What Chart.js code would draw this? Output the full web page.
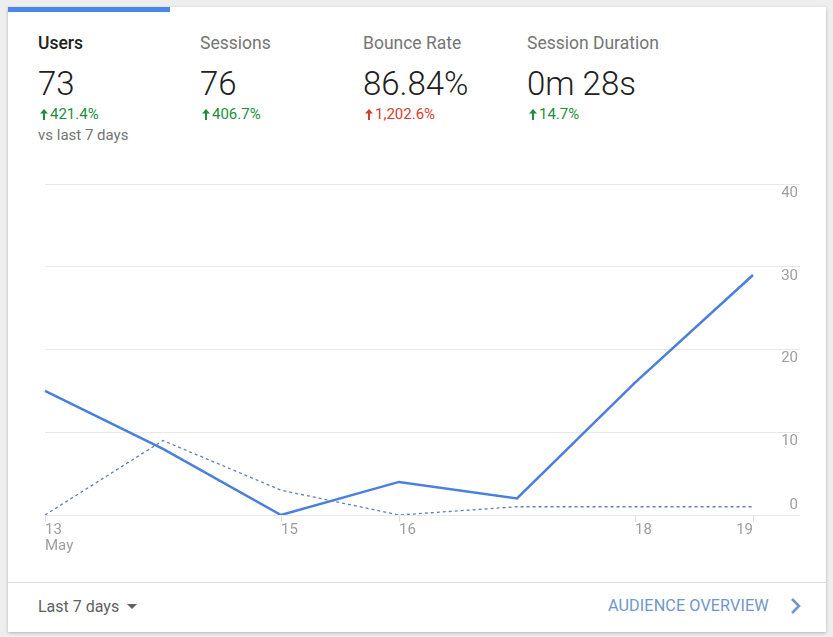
<!DOCTYPE html>
<html>
<head>
<meta charset="utf-8">
<script src="https://cdn.jsdelivr.net/npm/chart.js@4.4.0/dist/chart.umd.min.js"></script>
<style>
  body { margin: 0; background: #eeeeee; font-family: Roboto, "Noto Sans", sans-serif; width: 833px; height: 637px; overflow: hidden; position: relative; }
  .card { position: absolute; left: 8px; top: 7px; width: 818px; height: 625px; background: #fff; box-shadow: 0 1px 3px rgba(0,0,0,0.25); }
  .tabbar { position: absolute; left: 8px; top: 7px; width: 162px; height: 5px; background: #4a86e8; }
  .metric { position: absolute; top: 31px; }
  .metric .name { font-size: 17.5px; color: #757575; line-height: 24px; }
  .metric.active .name { color: #212121; font-weight: 500; }
  .metric .value { font-size: 33px; font-weight: 300; color: #212121; line-height: 40px; margin-top: 9px; }
  .metric .delta { font-size: 15px; line-height: 18px; margin-top: 1px; }
  .metric .delta svg { vertical-align: -1px; margin-right: 2px; margin-left: 2px; }
  .up-good { color: #1e8e3e; }
  .up-bad { color: #d23f31; }
  .metric .vs { font-size: 15px; color: #757575; line-height: 20px; margin-top: 2px; }
  #chartBox { position: absolute; left: 0; top: 170px; width: 833px; height: 400px; }
  .divider { position: absolute; left: 8px; top: 582px; width: 818px; height: 1px; background: #e0e0e0; }
  .range { position: absolute; left: 38px; top: 597px; font-size: 16px; color: #616161; }
  .overview { position: absolute; left: 608px; top: 596px; font-size: 16.2px; color: #6f97c9; letter-spacing: 0.1px; }
  .chev { position: absolute; left: 790px; top: 598px; }
</style>
</head>
<body>
<div class="card"></div>
<div class="tabbar"></div>

<div class="metric active" style="left:38px">
  <div class="name">Users</div>
  <div class="value">73</div>
  <div class="delta up-good"><svg width="8" height="11" viewBox="0 0 8 11"><path d="M4 0 L8 4.5 L5 4.5 L5 11 L3 11 L3 4.5 L0 4.5 Z" fill="#1e8e3e"/></svg>421.4%</div>
  <div class="vs">vs last 7 days</div>
</div>
<div class="metric" style="left:200px">
  <div class="name">Sessions</div>
  <div class="value">76</div>
  <div class="delta up-good"><svg width="8" height="11" viewBox="0 0 8 11"><path d="M4 0 L8 4.5 L5 4.5 L5 11 L3 11 L3 4.5 L0 4.5 Z" fill="#1e8e3e"/></svg>406.7%</div>
</div>
<div class="metric" style="left:363px">
  <div class="name">Bounce Rate</div>
  <div class="value">86.84%</div>
  <div class="delta up-bad"><svg width="8" height="11" viewBox="0 0 8 11"><path d="M4 0 L8 4.5 L5 4.5 L5 11 L3 11 L3 4.5 L0 4.5 Z" fill="#d23f31"/></svg>1,202.6%</div>
</div>
<div class="metric" style="left:527px">
  <div class="name">Session Duration</div>
  <div class="value">0m 28s</div>
  <div class="delta up-good"><svg width="8" height="11" viewBox="0 0 8 11"><path d="M4 0 L8 4.5 L5 4.5 L5 11 L3 11 L3 4.5 L0 4.5 Z" fill="#1e8e3e"/></svg>14.7%</div>
</div>

<div id="chartBox"><canvas id="usersChart"></canvas></div>

<div class="divider"></div>
<div class="range">Last 7 days <svg width="10" height="6" viewBox="0 0 10 6" style="margin-left:4px;vertical-align:2px"><path d="M0 0 L10 0 L5 5 Z" fill="#616161"/></svg></div>
<div class="overview">AUDIENCE OVERVIEW</div>
<svg class="chev" width="12" height="16" viewBox="0 0 12 16"><path d="M2 1 L9 8 L2 15" stroke="#6f97c9" stroke-width="2.6" fill="none"/></svg>

<script>
// daily users, this week vs previous week
const days = ["13", "14", "15", "16", "17", "18", "19"];
const usersThisWeek = [15, 8, 0, 4, 2, 16, 29];
const usersLastWeek = [0, 9, 3, 0, 1, 1, 1];
const yTicks = [0, 10, 20, 30, 40];
const shownDays = ["13", "15", "16", "18", "19"];
const monthLabel = "May";

const axisFont = "15px Roboto";
const axisColor = "#9e9e9e";

// GA style axis labels: y labels sit under their grid line, x labels start at their tick
const axisLabels = {
  id: "axisLabels",
  afterDraw(chart) {
    const ctx = chart.ctx;
    const xs = chart.scales.x;
    const ys = chart.scales.y;
    const bottom = chart.chartArea.bottom;
    ctx.save();
    ctx.font = axisFont;
    ctx.fillStyle = axisColor;
    ctx.textBaseline = "middle";

    ctx.textAlign = "right";
    yTicks.forEach((v) => {
      const y = ys.getPixelForValue(v);
      ctx.fillText(String(v), 798, v === 0 ? y - 10 : y + 9);
    });

    shownDays.forEach((d, i) => {
      const idx = days.indexOf(d);
      const x = xs.getPixelForValue(idx);
      ctx.strokeStyle = "#e0e0e0";
      ctx.lineWidth = 1;
      ctx.beginPath();
      ctx.moveTo(Math.round(x) + 0.5, bottom);
      ctx.lineTo(Math.round(x) + 0.5, bottom + 7);
      ctx.stroke();
      const last = i === shownDays.length - 1;
      ctx.textAlign = last ? "right" : "left";
      ctx.fillText(d, x, bottom + 15);
      if (idx === 0) ctx.fillText(monthLabel, x, bottom + 31);
    });
    ctx.restore();
  },
};

new Chart(document.getElementById("usersChart"), {
  type: "line",
  data: {
    labels: days,
    datasets: [
      {
        label: "Users",
        data: usersThisWeek,
        borderColor: "#4a80dc",
        borderWidth: 2.5,
        pointRadius: 0,
        tension: 0,
        fill: false,
      },
      {
        label: "Users (previous 7 days)",
        data: usersLastWeek,
        borderColor: "#5f80b8",
        borderWidth: 1.3,
        borderDash: [3, 3],
        pointRadius: 0,
        tension: 0,
        fill: false,
      },
    ],
  },
  options: {
    responsive: true,
    maintainAspectRatio: false,
    animation: false,
    layout: { padding: { left: 45, top: 14, right: 0, bottom: 0 } },
    plugins: { legend: { display: false }, tooltip: { enabled: false } },
    scales: {
      x: {
        offset: false,
        grid: { display: false },
        border: { display: false },
        ticks: { display: false },
        afterFit: (s) => { s.height = 55; },
      },
      y: {
        position: "right",
        min: 0,
        max: 40,
        ticks: { display: false, stepSize: 10 },
        border: { display: false },
        grid: { color: "#e8e8e8", lineWidth: 1, drawTicks: true, tickLength: 47 },
        afterFit: (s) => { s.width = 80; },
      },
    },
  },
  plugins: [axisLabels],
});
</script>
</body>
</html>
